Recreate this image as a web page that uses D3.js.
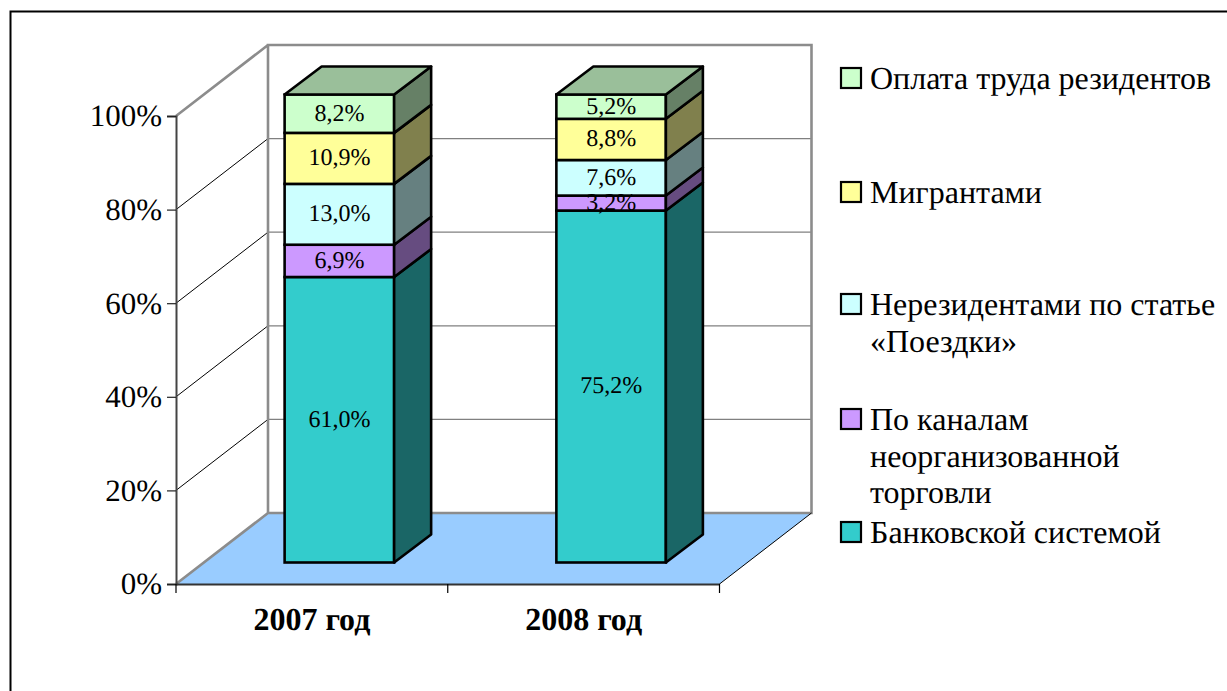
<!DOCTYPE html>
<html>
<head>
<meta charset="utf-8">
<script src="https://cdnjs.cloudflare.com/ajax/libs/d3/7.8.5/d3.min.js"></script>
<style>
  html, body { margin: 0; padding: 0; background: #fff; }
  svg { display: block; font-family: "Liberation Serif", serif; text-rendering: geometricPrecision; }
</style>
</head>
<body>
<div id="chart"></div>
<script>
const categories = ['2007 год', '2008 год'];
const seriesNames = ['Банковской системой', 'По каналам неорганизованной торговли', 'Нерезидентами по статье «Поездки»', 'Мигрантами', 'Оплата труда резидентов'];
const bankValues = [61.0, 75.2];
const informalValues = [6.9, 3.2];
const tripsValues = [13.0, 7.6];
const migrantValues = [10.9, 8.8];
const wageValues = [8.2, 5.2];
const yTicks = [0, 20, 40, 60, 80, 100];

const frontColors = ['#33cccc', '#cc99ff', '#ccffff', '#ffff99', '#ccffcc'];
const sideColors = ['#1a6666', '#664c80', '#668080', '#80804d', '#668066'];
const topColor = '#9abf9a';
const floorColor = '#99ccff';

const legendRows = [
  { s: 4, y: 80, lines: ['Оплата труда резидентов'] },
  { s: 3, y: 194, lines: ['Мигрантами'] },
  { s: 2, y: 306, lines: ['Нерезидентами по статье', '«Поездки»'] },
  { s: 1, y: 421, lines: ['По каналам', 'неорганизованной', 'торговли'] },
  { s: 0, y: 534, lines: ['Банковской системой'] }
];

const width = 1227, height = 691;
const depthX = 92, depthY = -71;       // full depth of the 3d box
const barDepthX = 37, barDepthY = -28; // depth of one column
const barOffX = (depthX - barDepthX) / 2, barOffY = (depthY - barDepthY) / 2;

const x = d3.scaleBand().domain(categories).range([176, 719.5]).paddingInner(0.597).paddingOuter(0.2985);
const y = d3.scaleLinear().domain([0, 100]).range([584, 116]);

const svg = d3.select('#chart').append('svg').attr('width', width).attr('height', height);

// outer frame, only top and left edges show
svg.append('path').attr('d', 'M10.5,691V11.5H1227').attr('fill', 'none').attr('stroke', '#000').attr('stroke-width', 2);

const poly = pts => pts.map(p => p.join(',')).join(' ');
const [x0, x1] = x.range();

// floor
svg.append('polygon')
  .attr('points', poly([[x0, y(0)], [x1, y(0)], [x1 + depthX, y(0) + depthY], [x0 + depthX, y(0) + depthY]]))
  .attr('fill', floorColor);

// grid on back wall and side wall
const grid = svg.append('g');
yTicks.filter(t => t > 0 && t < 100).forEach(t => {
  grid.append('line').attr('x1', x0 + depthX).attr('x2', x1 + depthX)
    .attr('y1', y(t) + depthY).attr('y2', y(t) + depthY)
    .attr('stroke', '#808080').attr('stroke-width', 1.2);
  grid.append('line').attr('x1', x0).attr('x2', x0 + depthX)
    .attr('y1', y(t)).attr('y2', y(t) + depthY)
    .attr('stroke', '#000').attr('stroke-width', 1);
});

// wall edges
svg.append('path')
  .attr('d', `M${x0},${y(0)}L${x0 + depthX},${y(0) + depthY}H${x1 + depthX}V${y(100) + depthY}H${x0 + depthX}V${y(0) + depthY}M${x0},${y(100)}L${x0 + depthX},${y(100) + depthY}`)
  .attr('fill', 'none').attr('stroke', '#8c8c8c').attr('stroke-width', 2.6);
svg.append('line').attr('x1', x1).attr('y1', y(0)).attr('x2', x1 + depthX).attr('y2', y(0) + depthY)
  .attr('stroke', '#000').attr('stroke-width', 1);

// axes
const yAxis = svg.append('g').attr('transform', `translate(${x0},0)`)
  .call(d3.axisLeft(y).tickValues(yTicks).tickFormat(d => d + '%').tickSize(9).tickPadding(5));
yAxis.select('.domain').attr('stroke', '#444').attr('stroke-width', 2);
yAxis.selectAll('.tick line').attr('stroke', '#222').attr('stroke-width', 1.2);
yAxis.selectAll('text').attr('font-family', '"Liberation Serif", serif').attr('font-size', 31).attr('fill', '#000');

const xAxis = svg.append('g').attr('transform', `translate(0,${y(0)})`)
  .call(d3.axisBottom(x).tickSize(0).tickPadding(23));
xAxis.select('.domain').attr('stroke', '#333').attr('stroke-width', 2);
xAxis.selectAll('text').attr('font-family', '"Liberation Serif", serif').attr('font-size', 32).attr('font-weight', 'bold').attr('fill', '#000');
[x0, x0 + x.step(), x1].forEach(tx => {
  svg.append('line').attr('x1', tx).attr('x2', tx).attr('y1', y(0)).attr('y2', y(0) + 9).attr('stroke', '#000').attr('stroke-width', 1.2);
});

// stacked 3d columns
const allSeries = [bankValues, informalValues, tripsValues, migrantValues, wageValues];
const stacked = d3.stack().keys(d3.range(allSeries.length))
  .value((row, key) => row[key])(categories.map((c, i) => allSeries.map(v => v[i])));

const fmt = v => v.toFixed(1).replace('.', ',') + '%';
const stroke = { stroke: '#000', width: 2.6 };

categories.forEach((cat, ci) => {
  const left = x(cat) + barOffX;
  const right = left + x.bandwidth();
  const column = svg.append('g');
  stacked.forEach((layer, si) => {
    const yb = y(layer[ci][0]) + barOffY;
    const yt = y(layer[ci][1]) + barOffY;
    column.append('rect').attr('x', left).attr('y', yt).attr('width', right - left).attr('height', yb - yt)
      .attr('fill', frontColors[si]).attr('stroke', stroke.stroke).attr('stroke-width', stroke.width);
    column.append('polygon')
      .attr('points', poly([[right, yb], [right + barDepthX, yb + barDepthY], [right + barDepthX, yt + barDepthY], [right, yt]]))
      .attr('fill', sideColors[si]).attr('stroke', stroke.stroke).attr('stroke-width', stroke.width).attr('stroke-linejoin', 'round');
    if (si === stacked.length - 1) {
      column.append('polygon')
        .attr('points', poly([[left, yt], [right, yt], [right + barDepthX, yt + barDepthY], [left + barDepthX, yt + barDepthY]]))
        .attr('fill', topColor).attr('stroke', stroke.stroke).attr('stroke-width', stroke.width).attr('stroke-linejoin', 'round');
    }
  });
  // labels go last so they can run over the segment edges
  stacked.forEach((layer, si) => {
    column.append('text')
      .attr('x', (left + right) / 2)
      .attr('y', (y(layer[ci][0]) + y(layer[ci][1])) / 2 + barOffY - 1.5)
      .attr('dy', '0.35em')
      .attr('text-anchor', 'middle')
      .attr('font-size', 24)
      .text(fmt(allSeries[si][ci]));
  });
});

// legend
const legend = svg.append('g');
legendRows.forEach(row => {
  legend.append('rect').attr('x', 841).attr('y', row.y - 12).attr('width', 20).attr('height', 20)
    .attr('fill', frontColors[row.s]).attr('stroke', '#000').attr('stroke-width', 2.2);
  row.lines.forEach((line, i) => {
    legend.append('text').attr('x', 870).attr('y', row.y + i * 36.5 + 9)
      .attr('font-size', 32).attr('fill', '#000').text(line);
  });
});
</script>
</body>
</html>
